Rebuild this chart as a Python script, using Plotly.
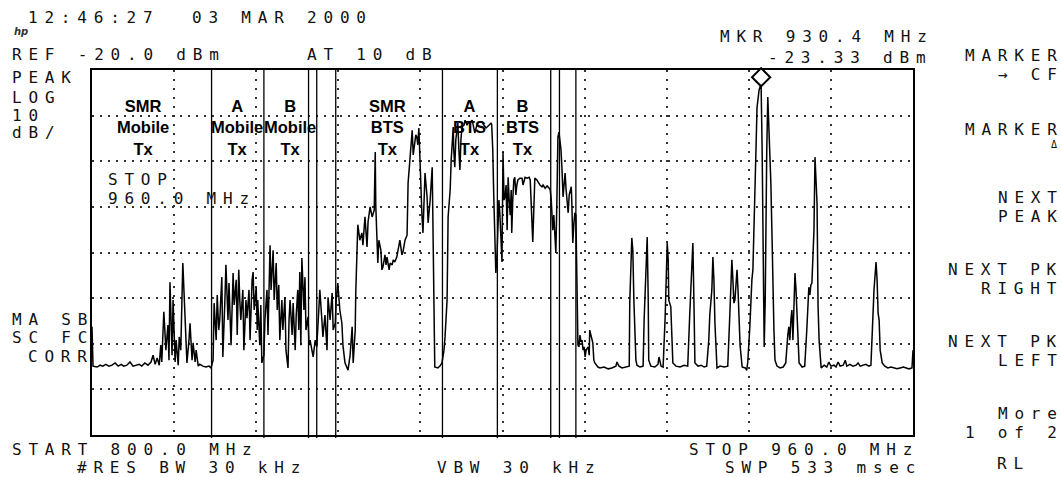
import plotly.graph_objects as go

freq_mhz = [
    800.0, 800.2, 801.0, 801.6, 802.1, 802.7, 803.3, 803.9, 804.5, 805.1, 805.7, 806.2, 806.8, 807.4,
    808.0, 808.6, 809.2, 809.7, 810.3, 810.9, 811.5, 811.9, 812.3, 812.7, 813.1, 813.4, 813.6, 814.0,
    814.4, 814.8, 815.0, 815.2, 815.6, 815.8, 816.2, 816.4, 816.8, 817.0, 817.3, 817.7, 818.1, 818.5,
    818.9, 819.1, 819.5, 819.7, 820.1, 820.3, 820.7, 821.0, 821.6, 822.2, 822.8, 823.2,
    823.6, 823.8, 824.2, 824.4, 824.7, 824.9, 825.3, 825.5, 825.9, 826.1, 826.5, 826.7, 827.1, 827.5,
    827.7, 828.1, 828.3, 828.6, 828.8, 829.0, 829.4, 829.6, 830.0, 830.2, 830.6, 830.8, 831.2, 831.4,
    831.6, 832.0, 832.2, 832.3, 832.7, 832.9, 833.1, 833.5,
    833.7, 834.1, 834.3, 834.7, 834.9, 835.3, 835.5, 835.9, 836.1, 836.4, 836.6, 837.0, 837.2, 837.6,
    837.8, 838.2, 838.4, 838.6, 839.0, 839.2, 839.6, 839.8, 840.1, 840.3, 840.5, 840.7, 840.9, 841.3,
    841.5, 841.7, 842.1, 842.3,
    842.5, 843.1, 843.5, 843.8, 844.2, 844.4, 844.8, 845.0, 845.4, 845.8, 846.0, 846.4, 846.8, 847.0,
    847.4, 847.6, 847.9, 848.3, 848.7, 848.9, 849.3, 849.7, 849.9, 850.3, 850.7, 850.9, 851.3,
    851.4, 851.6, 851.8, 852.2, 852.6, 852.8, 853.2, 853.6, 853.8, 854.2, 854.6, 855.0, 855.2, 855.3,
    855.7, 855.9, 856.3, 856.5, 856.7, 857.1, 857.3, 857.5, 857.9, 858.1, 858.5, 858.7, 859.0, 859.4,
    859.6, 860.0, 860.4, 860.6, 861.0, 861.4, 861.6, 862.0, 862.2, 862.4, 862.6, 862.8, 863.1, 863.3,
    863.5, 863.7, 863.9, 864.1, 864.3, 864.5, 864.7, 864.9, 865.1, 865.3, 865.5, 865.9, 866.3, 866.5,
    866.6, 866.8, 867.4, 867.8, 868.2,
    868.6, 868.8, 869.2, 869.4, 869.8, 870.0, 870.2, 870.4, 870.5, 870.7, 870.9, 871.1, 871.3, 871.5,
    871.7, 871.9, 872.1, 872.5, 872.7, 873.1, 873.3, 873.7, 874.1, 874.4, 874.6, 875.0, 875.2, 875.6,
    876.0, 876.4, 876.8, 877.0, 877.4, 877.8, 877.9, 878.1, 878.3, 878.5, 878.7, 878.9, 879.1, 879.3,
    879.5, 879.7, 879.9, 880.1, 880.3, 880.5, 880.7, 880.9, 881.1, 881.3, 881.5, 881.7, 881.8, 882.0,
    882.2, 882.4, 882.6, 882.8, 883.0, 883.4, 883.8, 884.0, 884.4, 884.8, 885.2, 885.4, 885.6, 885.9,
    886.1, 886.3, 886.7, 886.9, 887.3, 887.7, 887.9, 888.3, 888.7, 889.1, 889.3, 889.5, 889.6, 889.8,
    890.0, 890.2, 890.4, 890.6, 890.8, 891.0, 891.2, 891.4, 891.6, 891.8, 892.0, 892.2, 892.4, 892.6,
    892.8, 893.0, 893.2, 893.4, 893.5, 893.7, 893.9, 894.1, 894.3, 894.5, 894.7, 894.9, 895.1, 895.3,
    895.5, 895.7, 895.9, 896.1, 896.3, 896.7, 896.9, 897.0, 897.4, 897.6, 897.8, 898.0, 898.6, 899.0,
    899.8, 900.6, 901.3, 902.1, 902.3, 902.7, 903.3, 904.1, 904.7, 904.8, 905.2, 905.4, 905.6, 906.0,
    906.2, 906.8, 907.4, 907.6, 907.8, 908.0, 908.2, 908.4, 908.5, 908.9, 909.7, 910.3, 910.5, 910.9,
    911.3, 911.7, 912.1, 912.3, 912.4, 912.8, 913.0, 913.2, 913.8, 914.6, 915.4, 916.1, 916.5, 916.9,
    917.1, 917.3, 917.5, 918.1, 918.7, 919.3, 919.8, 920.2, 920.4, 920.8, 921.0, 921.2, 921.4, 921.8,
    922.4, 923.2, 923.9, 924.3, 924.5, 924.7, 924.9, 925.1, 925.3, 925.5, 925.7, 925.9, 926.1, 926.3,
    926.7, 927.3, 927.6, 927.8, 928.2, 928.4, 928.6, 928.8, 929.0, 929.2, 929.4, 929.6, 929.8, 930.0,
    930.2, 930.4, 930.6, 930.8, 931.0, 931.2, 931.3, 931.5, 931.7, 931.9, 932.1, 932.3, 932.5, 932.7,
    932.9, 933.1, 933.5, 934.1, 934.7, 935.2, 935.4, 935.6, 935.8, 936.0, 936.2, 936.4, 936.6, 936.8,
    937.0, 937.2, 937.4, 937.6, 937.8, 938.4, 938.9, 939.3, 939.5, 939.7, 939.9, 940.1, 940.3, 940.5,
    940.7, 940.9, 941.1, 941.3, 941.5, 941.7, 942.1, 942.7, 943.2, 943.6, 944.0, 944.6, 945.0, 945.4,
    945.8, 946.4, 946.8, 947.1, 947.7, 948.3, 948.9, 949.3, 949.7, 950.3, 950.8, 951.4, 951.8, 952.0,
    952.2, 952.4, 952.8, 953.0, 953.2, 953.4, 953.6, 954.0, 954.5, 955.1, 955.7, 956.3, 956.9, 957.5,
    958.1, 958.7, 959.2, 959.8, 960.0,
]

level_dbm = [
    -76.3, -84.9, -85.1, -84.7, -84.9, -84.5, -84.9, -84.7, -84.2, -84.9, -84.5, -84.9, -84.7, -84.0,
    -84.9, -84.7, -84.5, -84.9, -84.2, -84.7, -84.0, -82.5, -84.5, -83.1, -84.7, -80.3, -84.0, -73.0,
    -81.4, -75.9, -83.6, -66.5, -82.5, -70.4, -84.0, -79.2, -84.7, -78.5, -81.4, -62.3, -71.9, -84.2,
    -79.2, -75.5, -83.6, -79.8, -84.0, -81.4, -84.9, -84.5, -84.9, -85.1, -84.9, -85.3,
    -83.6, -71.1, -79.2, -69.3, -77.0, -74.8, -65.4, -82.9, -70.4, -62.7, -74.8, -66.7, -80.3, -64.5,
    -71.5, -66.0, -78.1, -63.8, -70.4, -74.8, -68.2, -81.4, -70.4, -74.4, -68.2, -79.2, -66.0, -64.3,
    -72.6, -67.6, -77.0, -70.4, -80.3, -71.5, -84.2, -82.5,
    -74.8, -68.2, -78.1, -58.4, -68.2, -59.5, -70.4, -62.3, -72.6, -67.1, -79.2, -70.4, -77.0, -69.8,
    -81.4, -85.3, -74.8, -70.4, -78.1, -71.1, -81.4, -73.7, -68.2, -77.0, -64.3, -80.3, -61.2, -72.6,
    -65.4, -77.0, -74.1, -80.3,
    -79.2, -82.9, -79.2, -80.7, -72.6, -68.2, -74.8, -78.5, -73.7, -81.4, -69.8, -74.8, -68.9, -77.0,
    -75.5, -70.4, -66.7, -72.6, -75.5, -80.3, -84.2, -85.3, -85.8, -82.5, -76.3, -84.2, -77.0,
    -68.9, -60.1, -53.9, -57.3, -55.7, -58.4, -52.2, -58.8, -53.3, -50.0, -52.2, -50.7, -38.0, -49.6,
    -62.3, -57.3, -59.5, -63.8, -63.2, -60.5, -62.7, -61.0, -63.8, -62.3, -62.7, -61.6, -62.1, -61.0,
    -59.5, -57.3, -60.5, -59.9, -57.3, -56.2, -44.8, -38.0, -35.3, -33.2, -38.6, -36.9, -34.2, -34.7,
    -36.4, -32.7, -39.7, -47.8, -51.8, -55.7, -48.5, -42.6, -45.2, -47.8, -53.5, -48.5, -41.3, -63.8,
    -77.0, -85.1, -85.3, -84.9, -84.2,
    -81.4, -78.5, -70.4, -52.2, -46.3, -39.7, -35.3, -32.5, -37.5, -41.3, -35.3, -33.2, -31.6, -37.5,
    -41.9, -35.3, -32.5, -32.1, -31.0, -32.1, -31.6, -31.4, -31.0, -32.7, -33.8, -32.1, -31.6, -31.4,
    -31.4, -32.1, -32.7, -32.5, -32.1, -31.6, -32.1, -37.5, -47.8, -57.3, -64.5, -61.6, -52.9, -48.5,
    -51.8, -59.5, -62.1, -38.0, -48.5, -47.8, -45.2, -55.1, -43.5, -48.5, -51.8, -46.3, -55.7, -48.5,
    -44.1, -43.5, -47.4, -45.2, -44.1, -43.7, -43.7, -45.2, -43.5, -43.7, -43.5, -44.1, -48.5, -57.7,
    -50.7, -43.7, -44.1, -44.5, -45.2, -45.6, -45.2, -45.9, -45.4, -45.9, -46.3, -48.5, -50.0, -55.1,
    -51.8, -57.3, -60.1, -48.5, -34.7, -33.6, -35.3, -37.5, -41.9, -47.8, -45.2, -42.6, -46.3, -48.5,
    -51.3, -47.4, -46.3, -45.6, -48.5, -57.9, -53.9, -51.3, -51.8, -71.1, -80.3, -80.7, -78.1, -79.6,
    -79.2, -81.4, -80.7, -82.9, -81.4, -80.7, -82.5, -77.0, -78.5, -79.8, -83.6, -84.2, -85.1, -85.3,
    -85.1, -85.5, -85.3, -84.9, -84.0, -84.9, -85.3, -85.1, -84.9, -71.1, -56.8, -59.5, -70.4, -83.6,
    -84.7, -85.1, -84.9, -74.8, -68.2, -61.6, -56.6, -70.4, -83.6, -84.9, -85.1, -84.5, -82.9, -84.9,
    -85.1, -74.1, -57.9, -61.6, -70.4, -71.9, -79.2, -84.2, -84.9, -85.1, -84.7, -84.9, -73.3, -61.6,
    -57.9, -70.4, -84.2, -84.9, -84.7, -85.1, -84.9, -79.2, -73.7, -68.2, -61.0, -66.0, -75.5, -85.3,
    -84.9, -85.1, -84.9, -73.7, -68.2, -61.6, -66.0, -71.1, -70.4, -67.1, -63.8, -68.2, -74.1, -80.3,
    -85.1, -85.3, -85.8, -84.0, -76.3, -70.4, -66.0, -63.8, -56.6, -48.5, -37.5, -28.3, -25.5, -24.4,
    -23.7, -23.33, -37.5, -59.5, -80.7, -70.4, -53.5, -37.5, -25.9, -32.1, -37.5, -44.8, -55.1, -68.2,
    -77.0, -83.6, -84.9, -85.3, -85.1, -84.2, -80.7, -78.1, -76.3, -79.2, -74.8, -72.6, -79.2, -70.4,
    -64.5, -68.2, -74.8, -80.3, -84.2, -85.1, -84.9, -77.0, -70.4, -67.6, -69.3, -67.1, -66.7, -62.3,
    -55.1, -39.1, -44.1, -49.2, -71.9, -79.2, -85.3, -84.7, -85.1, -84.0, -84.9, -84.7, -85.1, -84.0,
    -84.9, -84.7, -83.6, -84.9, -84.5, -84.9, -84.7, -84.2, -84.9, -84.7, -84.5, -84.9, -84.7, -79.2,
    -71.1, -68.2, -62.1, -66.0, -73.3, -74.8, -81.4, -84.2, -84.9, -85.3, -85.1, -85.3, -85.5, -85.3,
    -85.1, -85.3, -85.5, -85.3, -81.4,
]

band_edges_mhz = [823.3, 833.5, 842.2, 843.8, 847.5, 868.3, 879.0, 889.4, 891.1, 894.3]
band_labels = ["SMR<br>Mobile<br>Tx", "A<br>Mobile<br>Tx", "B<br>Mobile<br>Tx",
               "SMR<br>BTS<br>Tx", "A<br>BTS<br>Tx", "B<br>BTS<br>Tx"]

softkeys = [("MARKER", "→ CF"), ("MARKER", "Δ"), ("NEXT", "PEAK"),
            ("NEXT PK", "RIGHT"), ("NEXT PK", "LEFT"), ("More", "1 of 2")]

start_mhz, stop_mhz = 800.0, 960.0
ref_dbm, db_per_div, n_div_y = -20.0, 10.0, 8
mkr_freq_mhz = 930.4
mkr_level_dbm = -23.33

# ---------------- layout geometry (pixels) ----------------
W, H = 1061, 477
L, R, T, B = 92, 913, 70, 435
FS = 16      # analyzer font size
LS = 6.8     # letter spacing of the analyzer font


def px(x):
    return (x - L) / (R - L)


def py(y):
    return (B - y) / (B - T)


def spaced(text):
    # letter spacing on every character but the last, so no trailing gap
    if len(text) < 2:
        return text
    return f'<span style="letter-spacing:{LS}px">{text[:-1]}</span>{text[-1]}'


def hp(text, x, y, anchor="left", size=FS, color="#111", vanchor="middle"):
    yy = y + 1.5 if vanchor == "middle" else y
    return dict(
        text=spaced(text),
        x=px(x), y=py(yy), xref="paper", yref="paper",
        xanchor=anchor, yanchor=vanchor, showarrow=False,
        borderpad=0, borderwidth=0,
        font=dict(family="DejaVu Sans Mono", size=size, color=color),
    )


fig = go.Figure()

fig.add_trace(go.Scatter(
    x=freq_mhz, y=level_dbm, mode="lines",
    line=dict(color="black", width=1.5), hoverinfo="skip", showlegend=False,
))

# marker diamond sitting on the peak
diamond_offset_db = 8 * (db_per_div * n_div_y) / (B - T)
fig.add_trace(go.Scatter(
    x=[mkr_freq_mhz], y=[mkr_level_dbm + diamond_offset_db], mode="markers",
    marker=dict(symbol="diamond-open", size=14, color="black", line=dict(width=2, color="black")),
    cliponaxis=False, hoverinfo="skip", showlegend=False,
))

shapes = []
for f in band_edges_mhz:
    shapes.append(dict(type="line", xref="x", yref="paper", x0=f, x1=f, y0=py(438), y1=1,
                       line=dict(color="black", width=1.3)))

annotations = []
label_px = [143, 237, 290, 387, 469, 522]
for txt, xp in zip(band_labels, label_px):
    annotations.append(dict(
        text=f"<b>{txt}</b>", x=px(xp), y=py(127), xref="paper", yref="paper",
        xanchor="center", yanchor="middle", showarrow=False, borderpad=0,
        font=dict(family="Liberation Sans", size=16.5, color="black"),
    ))

annotations += [
    hp("12:46:27", 28, 16),
    hp("03 MAR 2000", 192, 16),
    hp(f"REF {ref_dbm:.1f} dBm", 12, 53),
    hp("AT 10 dB", 307, 53),
    hp(f"MKR {mkr_freq_mhz:.1f} MHz", 927, 35, "right"),
    hp(f"{mkr_level_dbm:.2f} dBm", 926, 56, "right"),
    hp("PEAK", 12, 76),
    hp("LOG", 12, 96),
    hp(f"{db_per_div:.0f}", 12, 114),
    hp("dB/", 12, 131),
    hp("STOP", 108, 178),
    hp(f"{stop_mhz:.1f} MHz", 108, 197),
    hp("MA SB", 12, 318),
    hp("SC FC", 12, 336),
    hp("CORR", 28, 355),
    hp(f"START {start_mhz:.1f} MHz", 12, 448),
    hp(f"STOP {stop_mhz:.1f} MHz", 912, 448, "right"),
    hp("#RES BW 30 kHz", 77, 477, vanchor="bottom"),
    hp("VBW 30 kHz", 437, 477, vanchor="bottom"),
    hp("SWP 533 msec", 915, 477, "right", vanchor="bottom"),
    hp("RL", 997, 462, "left"),
]

# soft-key labels: two lines each, split between the two line centres
softkey_rows = [(57, 73), (129, 148), (198, 217), (270, 287), (342, 359), (413, 432)]
for (top, bottom), (ya, yb) in zip(softkeys, softkey_rows):
    mid = (ya + yb) / 2
    annotations.append(hp(top, 1057, mid, "right", vanchor="bottom"))
    annotations.append(hp(bottom, 1057, mid, "right", vanchor="top",
                          size=10 if bottom == "Δ" else FS))

annotations.append(dict(
    text="<i><b>hp</b></i>", x=px(13), y=py(31), xref="paper", yref="paper",
    xanchor="left", yanchor="middle", showarrow=False, borderpad=0,
    font=dict(family="DejaVu Sans", size=10, color="#333"),
))

fig.update_layout(
    width=W, height=H, autosize=False,
    margin=dict(l=L, r=W - R, t=T, b=H - B, pad=0),
    paper_bgcolor="white", plot_bgcolor="white",
    shapes=shapes, annotations=annotations,
    xaxis=dict(range=[start_mhz, stop_mhz], dtick=(stop_mhz - start_mhz) / 10, tick0=start_mhz,
               showgrid=True, gridcolor="#333", gridwidth=1.5, griddash="2px,7px",
               showline=True, mirror=True, linecolor="black", linewidth=2,
               ticks="", showticklabels=False, zeroline=False, fixedrange=True),
    yaxis=dict(range=[ref_dbm - db_per_div * n_div_y, ref_dbm], dtick=db_per_div, tick0=ref_dbm,
               showgrid=True, gridcolor="#333", gridwidth=1.5, griddash="2px,6px",
               showline=True, mirror=True, linecolor="black", linewidth=2,
               ticks="", showticklabels=False, zeroline=False, fixedrange=True),
)

fig.write_html("out.html")
